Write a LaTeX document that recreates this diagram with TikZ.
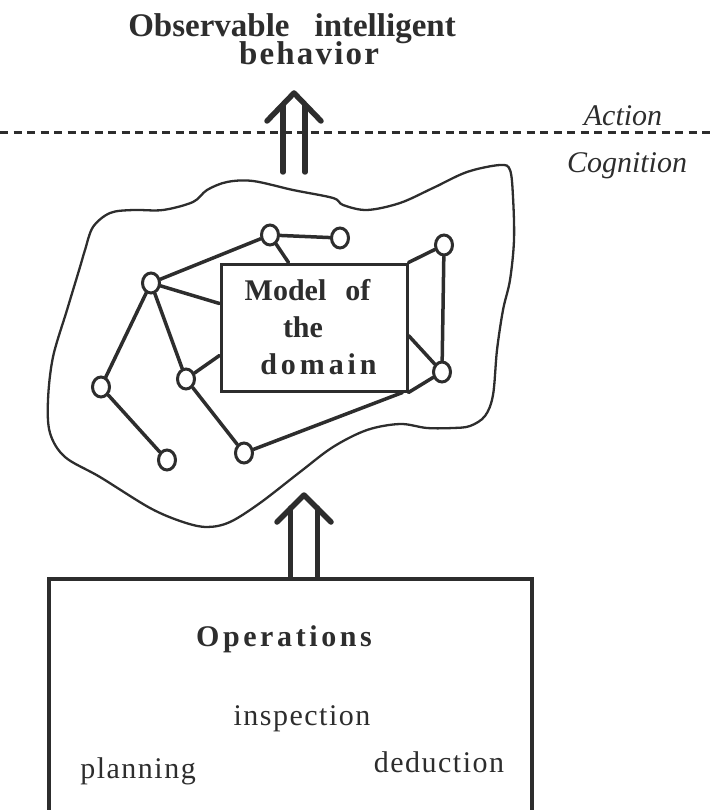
\documentclass[tikz,border=0pt]{standalone}
\usepackage{fontspec}
\setmainfont{Liberation Serif}
\usetikzlibrary{shapes.geometric,calc}
\definecolor{ink}{RGB}{45,45,45}
\begin{document}
\begin{tikzpicture}[x=1pt,y=-1pt,
  every node/.style={text=ink, inner sep=0pt},
  txt/.style={font=\fontsize{30}{36}\selectfont},
  bold/.style={font=\fontsize{30}{37}\selectfont\bfseries},
  head/.style={font=\fontsize{33}{37}\selectfont\bfseries},
  ital/.style={font=\fontsize{30}{36}\selectfont\itshape},
  vertex/.style={ellipse, draw=ink, line width=3pt, fill=white,
                 minimum width=17pt, minimum height=20pt},
  edge/.style={draw=ink, line width=3.5pt, line cap=round},
  frame/.style={draw=ink, line width=3pt},
  shaft/.style={draw=ink, line width=5.5pt, line cap=round, line join=round},
  divider/.style={draw=ink, line width=3pt, dash pattern=on 8pt off 5.5pt},
  outline/.style={draw=ink, line width=2.3pt}
]
\clip (0,0) rectangle (715,810);

% heading
\node[head, anchor=base] (title1) at (292,37) {Observable\hspace{25pt}intelligent};
\node[head, anchor=base] (title2) at (309,65) {\addfontfeatures{LetterSpace=6.6}behavior};

% action / cognition boundary
\draw[divider] (0,133) -- (715,133);
\node[ital, anchor=base] (action) at (623,126) {Action};
\node[ital, anchor=base] (cognition) at (627,173) {Cognition};

% cognitive space
\draw[outline] plot[smooth cycle, tension=0.55] coordinates {
  (85,250) (93,227) (110,213) (133,210) (163,210) (193,202) (207,190)
  (227,182) (253,181) (293,190) (333,198) (343,205) (367,210) (400,203)
  (433,188) (467,172) (500,165) (510,170) (513,197) (514,240) (510,280)
  (503,310) (497,350) (493,395) (485,416) (470,426) (453,428) (427,428)
  (400,424) (367,430) (333,447) (300,472) (260,503) (230,522) (207,527)
  (183,522) (150,508) (100,477) (65,457) (50,433) (48,400) (53,357)
  (67,310) (80,267)};

% domain model box
\node[frame, fill=white, rectangle, minimum width=186pt, minimum height=127pt,
      bold, align=center] (m) at (314,327.5)
  {Model\hspace{19pt}of\kern13pt\\the\kern22pt\\
   \kern9pt{\addfontfeatures{LetterSpace=13}domain}};

% concept vertices
\node[vertex] (A) at (270,235) {};
\node[vertex] (B) at (340,238) {};
\node[vertex] (C) at (444,245) {};
\node[vertex] (D) at (151,283) {};
\node[vertex] (E) at (101,387) {};
\node[vertex] (F) at (186,379) {};
\node[vertex] (G) at (442,372) {};
\node[vertex] (H) at (167,460) {};
\node[vertex] (I) at (244,453) {};

% concept links
\draw[edge] (A) -- (B);
\draw[edge] (A) -- ($(m.north west)+(69,0)$);
\draw[edge] (D) -- (A);
\draw[edge] (D) -- ($(m.north west)+(0,41)$);
\draw[edge] (D) -- (E);
\draw[edge] (D) -- (F);
\draw[edge] (F) -- ($(m.north west)+(0,93)$);
\draw[edge] (E) -- (H);
\draw[edge] (F) -- (I);
\draw[edge] (I) -- ($(m.south east)+(-6,0)$);
\draw[edge] (C) -- (m.north east);
\draw[edge] (C) -- (G);
\draw[edge] (G) -- ($(m.north east)+(0,73)$);
\draw[edge] (G) -- (m.south east);

% operations box
\node[frame, line width=3.5pt, rectangle, minimum width=483pt, minimum height=260pt,
      anchor=north west] (ops) at (47,577) {};
\node[bold, anchor=base] (optitle) at (284,646) {\addfontfeatures{LetterSpace=12}Operations};
\node[txt, anchor=base] (insp) at (302,725) {\addfontfeatures{LetterSpace=5}inspection};
\node[txt, anchor=base] (plan) at (138,778) {\addfontfeatures{LetterSpace=5}planning};
\node[txt, anchor=base] (ded) at (439,772) {\addfontfeatures{LetterSpace=5}deduction};

% arrow from the model up to behaviour
\coordinate (ta0) at (294,172);
\coordinate (ta1) at (294,93);
\draw[shaft] ($(ta0)+(-11,0)$) -- ($(ta1)+(-11,12)$);
\draw[shaft] ($(ta0)+(11,0)$) -- ($(ta1)+(11,12)$);
\draw[shaft] ($(ta1)+(-27,28)$) -- (ta1) -- ($(ta1)+(27,28)$);

% arrow from operations up into the model
\coordinate (ba0) at (304,578);
\coordinate (ba1) at (304,495);
\draw[shaft] ($(ba0)+(-13.5,0)$) -- ($(ba1)+(-13.5,13)$);
\draw[shaft] ($(ba0)+(13.5,0)$) -- ($(ba1)+(13.5,13)$);
\draw[shaft] ($(ba1)+(-27,27)$) -- (ba1) -- ($(ba1)+(27,27)$);
\end{tikzpicture}
\end{document}
